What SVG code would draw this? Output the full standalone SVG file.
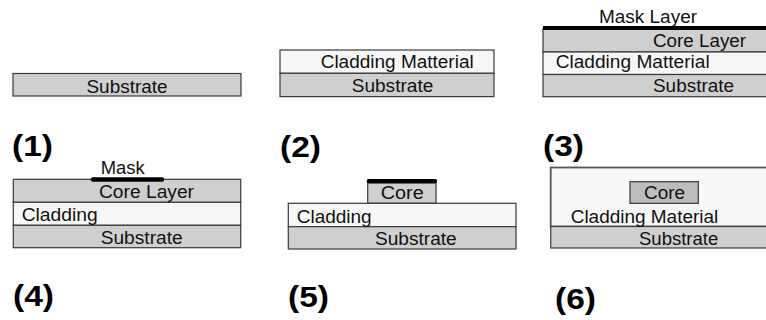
<svg xmlns="http://www.w3.org/2000/svg" width="766" height="320" viewBox="0 0 766 320">
<style>
.g{fill:#cfcfcf;stroke:#3a3a3a;stroke-width:1.2}
.w{fill:#f7f7f7;stroke:#3a3a3a;stroke-width:1.2}
.c{fill:#bdbdbd;stroke:#3a3a3a;stroke-width:1.2}
.t{font-family:"Liberation Sans",Arial,sans-serif;font-size:17.5px;fill:#111}
.n{font-family:"Liberation Sans",Arial,sans-serif;font-size:29px;font-weight:bold;fill:#000}
.m{stroke:#000;stroke-width:4.5;stroke-linecap:round;fill:none}
</style>
<g id="step1">
<rect class="g" x="13" y="73.5" width="228" height="22.5"/>
<text class="t" x="86.5" y="92.5" textLength="81" lengthAdjust="spacingAndGlyphs">Substrate</text>
<text class="n" x="12" y="156" textLength="41" lengthAdjust="spacingAndGlyphs">(1)</text>
</g>
<g id="step2">
<rect class="w" x="280" y="50" width="214" height="23.3"/>
<rect class="g" x="280" y="73.3" width="214" height="23.3"/>
<text class="t" x="320.7" y="67.5" textLength="153" lengthAdjust="spacingAndGlyphs">Cladding Matterial</text>
<text class="t" x="351.7" y="91.7" textLength="81.6" lengthAdjust="spacingAndGlyphs">Substrate</text>
<text class="n" x="280" y="157" textLength="41" lengthAdjust="spacingAndGlyphs">(2)</text>
</g>
<g id="step3">
<rect class="g" x="543" y="29" width="225" height="23"/>
<rect class="w" x="543" y="52" width="225" height="22.5"/>
<rect class="g" x="543" y="74.5" width="225" height="22.2"/>
<line x1="543" y1="28" x2="768" y2="28" stroke="#000" stroke-width="4"/>
<text class="t" x="599" y="23" textLength="98" lengthAdjust="spacingAndGlyphs">Mask Layer</text>
<text class="t" x="653" y="47" textLength="93" lengthAdjust="spacingAndGlyphs">Core Layer</text>
<text class="t" x="555.7" y="68" textLength="154" lengthAdjust="spacingAndGlyphs">Cladding Matterial</text>
<text class="t" x="653" y="91.5" textLength="81" lengthAdjust="spacingAndGlyphs">Substrate</text>
<text class="n" x="543" y="156" textLength="41" lengthAdjust="spacingAndGlyphs">(3)</text>
</g>
<g id="step4">
<rect class="g" x="13.3" y="179.3" width="227.4" height="23"/>
<rect class="w" x="13.3" y="202.3" width="227.4" height="23"/>
<rect class="g" x="13.3" y="225.3" width="227.4" height="22.4"/>
<line class="m" x1="93" y1="179.5" x2="162" y2="179.5"/>
<text class="t" x="100.7" y="174" textLength="44" lengthAdjust="spacingAndGlyphs">Mask</text>
<text class="t" x="99" y="198.3" textLength="95" lengthAdjust="spacingAndGlyphs">Core Layer</text>
<text class="t" x="21.7" y="221" textLength="76" lengthAdjust="spacingAndGlyphs">Cladding</text>
<text class="t" x="100.7" y="244.3" textLength="82" lengthAdjust="spacingAndGlyphs">Substrate</text>
<text class="n" x="13" y="306" textLength="41" lengthAdjust="spacingAndGlyphs">(4)</text>
</g>
<g id="step5">
<rect class="g" x="367.7" y="180" width="68.3" height="23.3"/>
<line class="m" x1="369" y1="181.3" x2="434.7" y2="181.3"/>
<rect class="w" x="288.3" y="203.3" width="227.7" height="23.4"/>
<rect class="g" x="288.3" y="226.7" width="227.7" height="22.3"/>
<text class="t" x="380.7" y="199.3" textLength="43" lengthAdjust="spacingAndGlyphs">Core</text>
<text class="t" x="296.7" y="222.7" textLength="75" lengthAdjust="spacingAndGlyphs">Cladding</text>
<text class="t" x="375" y="245" textLength="81.7" lengthAdjust="spacingAndGlyphs">Substrate</text>
<text class="n" x="288" y="307" textLength="41" lengthAdjust="spacingAndGlyphs">(5)</text>
</g>
<g id="step6">
<rect fill="#f7f7f7" stroke="#555" stroke-width="1.8" x="550.7" y="167.5" width="220" height="59"/>
<rect class="g" x="550.7" y="226.5" width="220" height="21.5"/>
<rect class="c" x="630" y="181.7" width="68.3" height="21.6"/>
<text class="t" x="644" y="199.3" textLength="41" lengthAdjust="spacingAndGlyphs">Core</text>
<text class="t" x="570.7" y="222.7" textLength="147.6" lengthAdjust="spacingAndGlyphs">Cladding Material</text>
<text class="t" x="639" y="245" textLength="79.3" lengthAdjust="spacingAndGlyphs">Substrate</text>
<text class="n" x="555" y="309" textLength="41" lengthAdjust="spacingAndGlyphs">(6)</text>
</g>
<g id="connectors"/>
</svg>
